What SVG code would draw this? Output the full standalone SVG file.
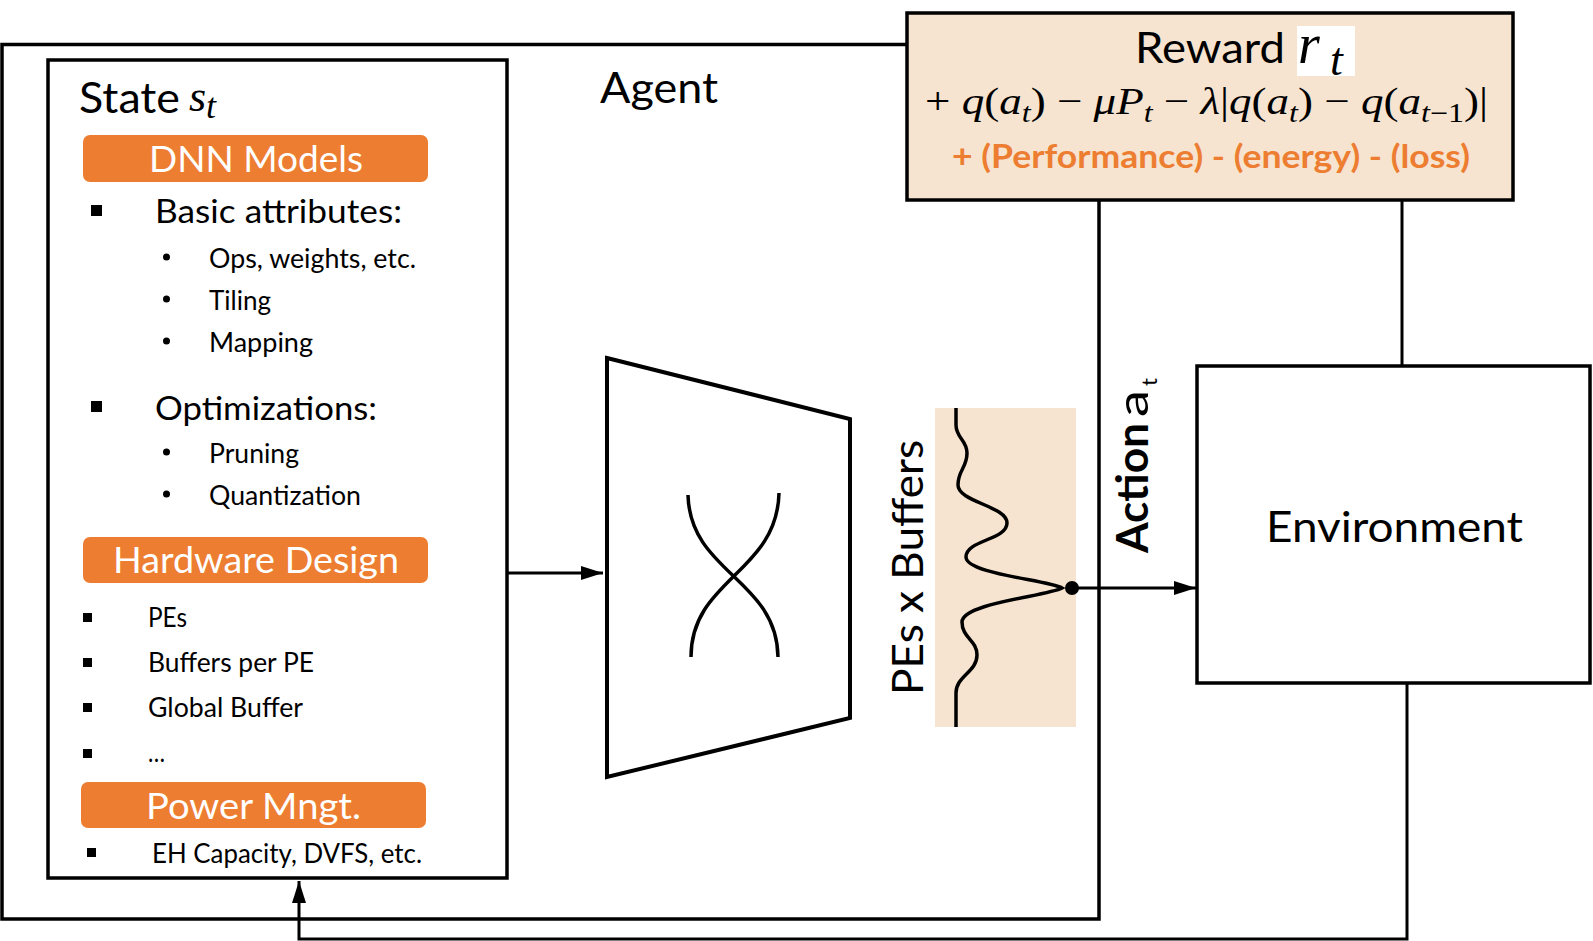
<svg xmlns="http://www.w3.org/2000/svg" width="1593" height="941" viewBox="0 0 1593 941">
<style>
.box{fill:none;stroke:#000;stroke-width:3.5}
.sans{font-family:Lato,"Liberation Sans",sans-serif;fill:#000}
.big{font-size:43px}
.h1{font-size:33px}
.h2{font-size:26px}
.pill{fill:#ED7D31}
.pilltxt{font-family:Lato,"Liberation Sans",sans-serif;font-size:37px;fill:#fff}
.math{font-family:"Liberation Serif","DejaVu Serif",serif;fill:#000}
.it{font-style:italic}
.conn{fill:none;stroke:#000;stroke-width:3}
.peach{fill:#F6E4D0}
</style>
<defs>
<marker id="arrow" markerUnits="userSpaceOnUse" markerWidth="22" markerHeight="14" refX="22" refY="7" orient="auto">
<path d="M0,0 L22,7 L0,14 z" fill="#000"/>
</marker>
</defs>
<rect width="1593" height="941" fill="#fff"/>

<g id="agent">
<rect x="2" y="44.5" width="1097" height="874.5" class="box"/>
<text x="600" y="103" class="sans big" textLength="118" lengthAdjust="spacingAndGlyphs">Agent</text>
</g>

<g id="reward">
<rect x="907" y="13" width="606" height="187" class="peach" stroke="#000" stroke-width="3.5"/>
<text x="1135" y="63" class="sans big" textLength="150" lengthAdjust="spacingAndGlyphs">Reward</text>
<rect x="1297" y="26" width="58" height="50" fill="#fff"/>
<text x="1298" y="63" class="math it" font-size="56">r</text>
<text x="1330" y="75" class="math it" font-size="46">t</text>
<text x="925" y="114" class="math" font-size="38" textLength="563" lengthAdjust="spacingAndGlyphs">+ <tspan class="it">q</tspan>(<tspan class="it">a</tspan><tspan class="it" font-size="27" dy="8">t</tspan><tspan dy="-8">) − </tspan><tspan class="it">μP</tspan><tspan class="it" font-size="27" dy="8">t</tspan><tspan dy="-8"> − </tspan><tspan class="it">λ</tspan>|<tspan class="it">q</tspan>(<tspan class="it">a</tspan><tspan class="it" font-size="27" dy="8">t</tspan><tspan dy="-8">) − </tspan><tspan class="it">q</tspan>(<tspan class="it">a</tspan><tspan font-size="27" dy="8"><tspan class="it">t</tspan>−1</tspan><tspan dy="-8">)|</tspan></text>
<text x="952" y="168" font-family="Lato,'Liberation Sans',sans-serif" font-weight="bold" font-size="32" fill="#ED7D31" textLength="518" lengthAdjust="spacingAndGlyphs">+ (Performance) - (energy) - (loss)</text>
</g>

<g id="state">
<rect x="48" y="60" width="459" height="818" class="box"/>
<text x="79" y="113" class="sans big" textLength="101" lengthAdjust="spacingAndGlyphs">State</text>
<text x="189" y="111" class="math it" font-size="44">s</text>
<text x="206" y="118" class="math it" font-size="36">t</text>

<rect x="83" y="135" width="345" height="47" rx="7" class="pill"/>
<text x="149" y="172" class="pilltxt" textLength="214" lengthAdjust="spacingAndGlyphs">DNN Models</text>

<rect x="91" y="205" width="11" height="11"/>
<text x="155" y="223" class="sans h1" textLength="247" lengthAdjust="spacingAndGlyphs">Basic attributes:</text>
<circle cx="166.5" cy="257" r="3.5"/>
<text x="209" y="268" class="sans h2" textLength="207" lengthAdjust="spacingAndGlyphs">Ops, weights, etc.</text>
<circle cx="166.5" cy="299" r="3.5"/>
<text x="209" y="310" class="sans h2" textLength="62" lengthAdjust="spacingAndGlyphs">Tiling</text>
<circle cx="166.5" cy="341" r="3.5"/>
<text x="209" y="352" class="sans h2" textLength="104" lengthAdjust="spacingAndGlyphs">Mapping</text>

<rect x="91" y="401" width="11" height="11"/>
<text x="155" y="420" class="sans h1" textLength="222" lengthAdjust="spacingAndGlyphs">Optimizations:</text>
<circle cx="166.5" cy="452" r="3.5"/>
<text x="209" y="463" class="sans h2" textLength="90" lengthAdjust="spacingAndGlyphs">Pruning</text>
<circle cx="166.5" cy="494" r="3.5"/>
<text x="209" y="505" class="sans h2" textLength="152" lengthAdjust="spacingAndGlyphs">Quantization</text>

<rect x="83" y="537" width="345" height="46" rx="7" class="pill"/>
<text x="113" y="573" class="pilltxt" textLength="286" lengthAdjust="spacingAndGlyphs">Hardware Design</text>

<rect x="83" y="613" width="9" height="9"/>
<text x="148" y="627" class="sans h2" textLength="39" lengthAdjust="spacingAndGlyphs">PEs</text>
<rect x="83" y="658" width="9" height="9"/>
<text x="148" y="672" class="sans h2" textLength="166" lengthAdjust="spacingAndGlyphs">Buffers per PE</text>
<rect x="83" y="703" width="9" height="9"/>
<text x="148" y="717" class="sans h2" textLength="155" lengthAdjust="spacingAndGlyphs">Global Buffer</text>
<rect x="83" y="749" width="9" height="9"/>
<text x="148" y="762" class="sans h2" textLength="17" lengthAdjust="spacingAndGlyphs">…</text>

<rect x="81" y="782" width="345" height="46" rx="7" class="pill"/>
<text x="146" y="819" class="pilltxt" textLength="215" lengthAdjust="spacingAndGlyphs">Power Mngt.</text>

<rect x="87" y="848" width="9" height="9"/>
<text x="152" y="863" class="sans h2" textLength="270" lengthAdjust="spacingAndGlyphs">EH Capacity, DVFS, etc.</text>
</g>

<g id="network">
<path d="M607,358 L850,419 L850,718 L607,777 Z" fill="none" stroke="#000" stroke-width="4" stroke-linejoin="miter"/>
<path d="M688,495 C690,573 777,579 778,657" fill="none" stroke="#000" stroke-width="3.5"/>
<path d="M779,493 C777,573 691,579 691,657" fill="none" stroke="#000" stroke-width="3.5"/>
</g>

<g id="output">
<rect x="935" y="408" width="141" height="319" class="peach"/>
<path d="M956,408 L956,425 C956,438 967,440 967,453 C967,468 958,470 958,485 C958,502 1007,506 1007,523 C1007,540 966,540 966,557 C966,574 1048,580 1062,588 C1048,596 962,603 962,622 C962,638 977,640 977,655 C977,672 956,676 956,693 L956,727" fill="none" stroke="#000" stroke-width="3.5"/>
<circle cx="1072" cy="588" r="7"/>
<text transform="translate(923,695) rotate(-90)" class="sans big" textLength="255" lengthAdjust="spacingAndGlyphs">PEs x Buffers</text>
</g>

<g id="action-label">
<g transform="translate(1148,553) rotate(-90)">
<text x="0" y="0" class="sans big" font-weight="bold" textLength="130" lengthAdjust="spacingAndGlyphs">Action</text>
<text x="136" y="0" class="sans big" textLength="27" lengthAdjust="spacingAndGlyphs">a</text>
<text x="167" y="9" class="sans" font-size="22">t</text>
</g>
</g>

<g id="environment">
<rect x="1197" y="366" width="393" height="317" fill="none" stroke="#000" stroke-width="3.5"/>
<text x="1266" y="542" class="sans big" textLength="257" lengthAdjust="spacingAndGlyphs">Environment</text>
</g>

<g id="connectors">
<line x1="507" y1="573" x2="603" y2="573" class="conn" stroke-width="2.5" marker-end="url(#arrow)"/>
<line x1="1072" y1="588" x2="1196" y2="588" class="conn" stroke-width="2.5" marker-end="url(#arrow)"/>
<line x1="1402" y1="200" x2="1402" y2="366" class="conn"/>
<path d="M1407,684 V939 H299 V881" class="conn" marker-end="url(#arrow)"/>
</g>
</svg>
